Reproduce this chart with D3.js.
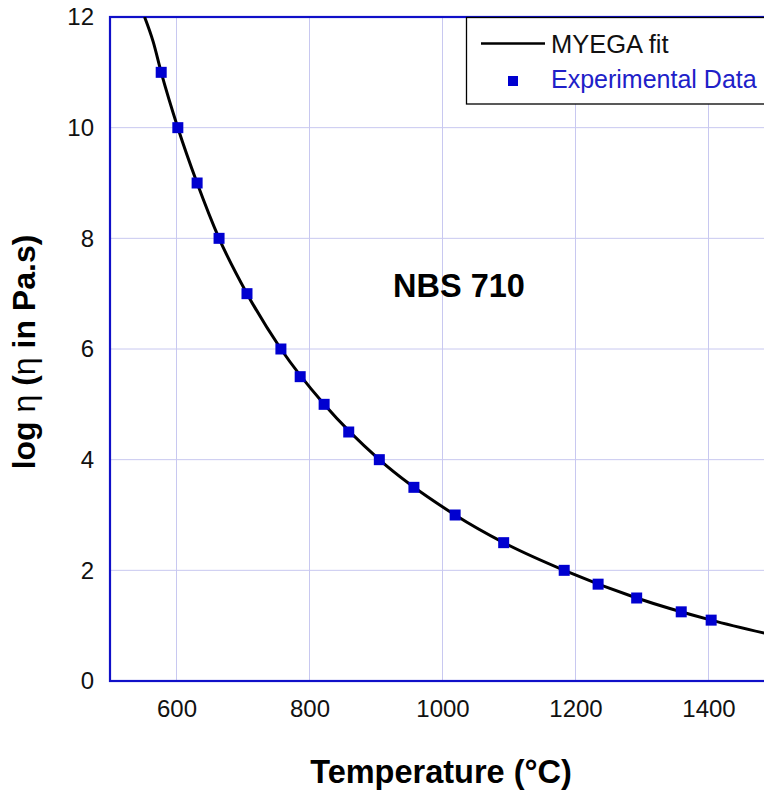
<!DOCTYPE html>
<html><head><meta charset="utf-8">
<script src="https://cdn.jsdelivr.net/npm/d3@7"></script>
<style>body{margin:0;background:#fff;overflow:hidden}svg{display:block}</style>
</head><body><svg id="c" width="764" height="794"></svg>
<script>
// Experimental data (°C, log10 viscosity in Pa.s)
const expT   = [577, 602, 631, 664, 706, 757, 786, 822, 859, 905, 957, 1019, 1092, 1183, 1234, 1292, 1359, 1404];
const expLog = [11, 10, 9, 8, 7, 6, 5.5, 5, 4.5, 4, 3.5, 3, 2.5, 2, 1.75, 1.5, 1.25, 1.1];
// MYEGA fit curve
const fitT   = [552, 565, 577, 602, 631, 664, 706, 757, 822, 905, 1019, 1092, 1183, 1292, 1404, 1500];
const fitLog = [12, 11.55, 11, 10, 9, 8, 7, 6, 5, 4, 3, 2.5, 2, 1.5, 1.1, 0.82];
const xTicks = [600, 800, 1000, 1200, 1400];
const yTicks = [0, 2, 4, 6, 8, 10, 12];
const xDomain = [500, 1500];
const yDomain = [0, 12];

const svg = d3.select('#c');
const L = 110, R = 775, T = 17, B = 681;
const x = d3.scaleLinear().domain(xDomain).range([L, R]);
const y = d3.scaleLinear().domain(yDomain).range([B, T]);
const font = 'Liberation Sans, Arial, sans-serif';
const blue = '#1010c8';

// grid
svg.append('g').selectAll('line.v').data(xTicks).join('line')
  .attr('x1', d => x(d)).attr('x2', d => x(d)).attr('y1', T).attr('y2', B)
  .attr('stroke', '#c8c8f0').attr('stroke-width', 1);
svg.append('g').selectAll('line.h').data(yTicks.filter(d => d > 0 && d < 12)).join('line')
  .attr('x1', L).attr('x2', R).attr('y1', d => y(d)).attr('y2', d => y(d))
  .attr('stroke', '#c8c8f0').attr('stroke-width', 1);

// axes via d3 (labels only)
const xAxis = svg.append('g').attr('transform', `translate(0,${B})`)
  .call(d3.axisBottom(x).tickValues(xTicks).tickSize(0).tickPadding(19).tickFormat(d3.format('d')));
const yAxis = svg.append('g').attr('transform', `translate(${L},0)`)
  .call(d3.axisLeft(y).tickValues(yTicks).tickSize(0).tickPadding(16).tickFormat(d3.format('d')));
[xAxis, yAxis].forEach(g => {
  g.select('.domain').remove();
  g.selectAll('text').attr('font-family', font).attr('font-size', 24).attr('fill', '#111');
});

// frame
svg.append('rect').attr('x', L).attr('y', T).attr('width', R - L).attr('height', B - T)
  .attr('fill', 'none').attr('stroke', blue).attr('stroke-width', 2.2);

// fit curve
const fitData = fitT.map((t, i) => [t, fitLog[i]]);
svg.append('defs').append('clipPath').attr('id', 'clip')
  .append('rect').attr('x', L).attr('y', T).attr('width', R - L).attr('height', B - T);
svg.append('path').datum(fitData)
  .attr('clip-path', 'url(#clip)')
  .attr('d', d3.line().x(d => x(d[0])).y(d => y(d[1])).curve(d3.curveMonotoneX))
  .attr('fill', 'none').attr('stroke', '#000').attr('stroke-width', 3);

// markers
const s = 11;
svg.append('g').selectAll('rect').data(expT.map((t, i) => [t, expLog[i]])).join('rect')
  .attr('x', d => x(d[0]) - s / 2).attr('y', d => y(d[1]) - s / 2)
  .attr('width', s).attr('height', s).attr('fill', '#0000d0');

// legend
const lg = svg.append('g');
lg.append('rect').attr('x', 466.5).attr('y', 17.5).attr('width', 320).attr('height', 86.5)
  .attr('fill', '#fff').attr('stroke', '#000').attr('stroke-width', 1.3);
lg.append('line').attr('x1', 481).attr('x2', 545).attr('y1', 43.5).attr('y2', 43.5)
  .attr('stroke', '#000').attr('stroke-width', 2.5);
lg.append('text').attr('x', 551).attr('y', 53).text('MYEGA fit')
  .attr('font-family', font).attr('font-size', 25.5).attr('fill', '#111');
lg.append('rect').attr('x', 508).attr('y', 76).attr('width', 10).attr('height', 10).attr('fill', '#0000d0');
lg.append('text').attr('x', 551).attr('y', 88).text('Experimental Data')
  .attr('font-family', font).attr('font-size', 25).attr('fill', '#2020c8');

// annotation
svg.append('text').attr('x', 459).attr('y', 296.5).attr('text-anchor', 'middle')
  .attr('font-family', font).attr('font-size', 32.5).attr('font-weight', 'bold').text('NBS 710');

// axis titles
svg.append('text').attr('x', 441).attr('y', 783).attr('text-anchor', 'middle')
  .attr('font-family', font).attr('font-size', 32.5).attr('font-weight', 'bold').text('Temperature (°C)');
const yt = svg.append('text').attr('transform', 'translate(35,352) rotate(-90)').attr('text-anchor', 'middle')
  .attr('font-family', font).attr('font-size', 32).attr('font-weight', 'bold');
yt.append('tspan').text('log ');
yt.append('tspan').attr('font-weight', 'normal').text('η');
yt.append('tspan').text(' (');
yt.append('tspan').attr('font-weight', 'normal').text('η');
yt.append('tspan').text(' in Pa.s)');
</script></body></html>
